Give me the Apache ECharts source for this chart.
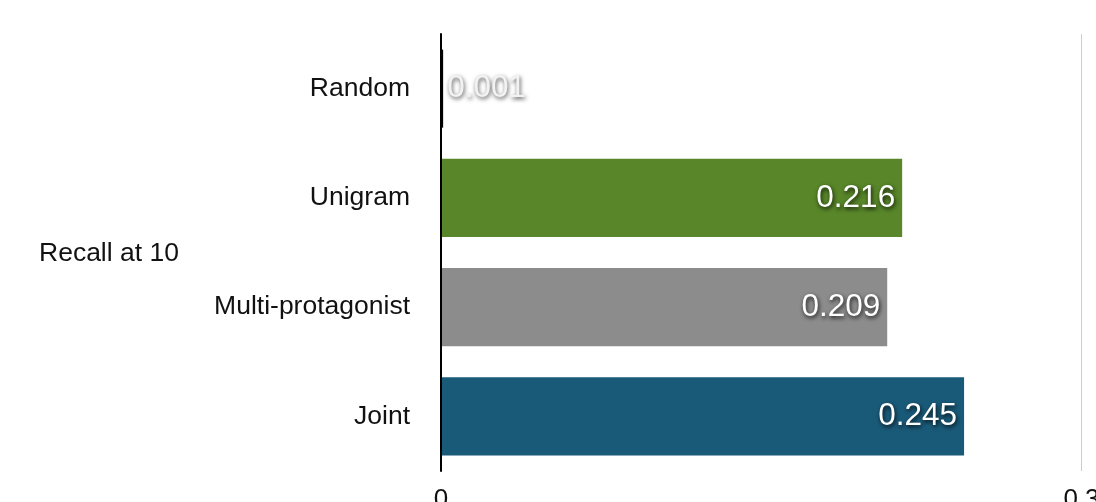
<!DOCTYPE html>
<html>
<head>
<meta charset="utf-8">
<script src="https://cdn.jsdelivr.net/npm/echarts@6/dist/echarts.min.js"></script>
<style>
html,body{margin:0;padding:0;background:#fff;overflow:hidden;}
#chart{width:1096px;height:502px;}
</style>
</head>
<body>
<div id="chart"></div>
<script>
const categories = ['Random', 'Unigram', 'Multi-protagonist', 'Joint'];
const recallValues = [0.001, 0.216, 0.209, 0.245];
const barColors = ['#000000', '#588629', '#8c8c8c', '#1a5a79'];
const xTicks = [0, 0.3];
const groupLabel = 'Recall at 10';

const FONT = '"Liberation Sans", Arial, Helvetica, sans-serif';
const chart = echarts.init(document.getElementById('chart'), null, {renderer: 'canvas'});

const data = recallValues.map((v, i) => {
  const item = {value: v, itemStyle: {color: barColors[i]}};
  if (i === 0) {
    item.label = {position: 'right', distance: 4, color: '#f2f2f2',
      textShadowColor: 'rgba(0,0,0,0.7)'};
  }
  return item;
});

chart.setOption({
  animation: false,
  backgroundColor: '#ffffff',
  grid: {left: 441, right: 14.5, top: 34, bottom: 31, containLabel: false, outerBoundsMode: 'none'},
  xAxis: {
    type: 'value',
    min: xTicks[0],
    max: xTicks[xTicks.length - 1],
    interval: xTicks[1] - xTicks[0],
    axisLine: {show: false},
    axisTick: {show: false},
    splitLine: {show: true, lineStyle: {color: '#cccccc', width: 1}},
    axisLabel: {
      show: true, margin: 16, fontSize: 26, color: '#111111', fontFamily: FONT,
      formatter: v => String(v)
    }
  },
  yAxis: {
    type: 'category',
    data: categories,
    inverse: true,
    z: 5,
    axisLine: {show: true, lineStyle: {color: '#000000', width: 2}},
    axisTick: {show: false},
    axisLabel: {margin: 31, fontSize: 26.5, color: '#111111', fontFamily: FONT,
      padding: [5, 0, 0, 0]}
  },
  graphic: [{
    type: 'text',
    left: 39,
    top: 240,
    style: {text: groupLabel, fontSize: 26.5, fill: '#111111', fontFamily: FONT}
  }],
  series: [{
    type: 'bar',
    data: data,
    barCategoryGap: '28.6%',
    label: {
      show: true,
      position: 'insideRight',
      distance: 7,
      fontSize: 31.5,
      fontFamily: FONT,
      color: '#ffffff',
      textShadowColor: 'rgba(0,0,0,0.85)',
      textShadowBlur: 4,
      textShadowOffsetX: 1,
      textShadowOffsetY: 2,
      formatter: p => p.value.toFixed(3)
    }
  }]
});
</script>
</body>
</html>
